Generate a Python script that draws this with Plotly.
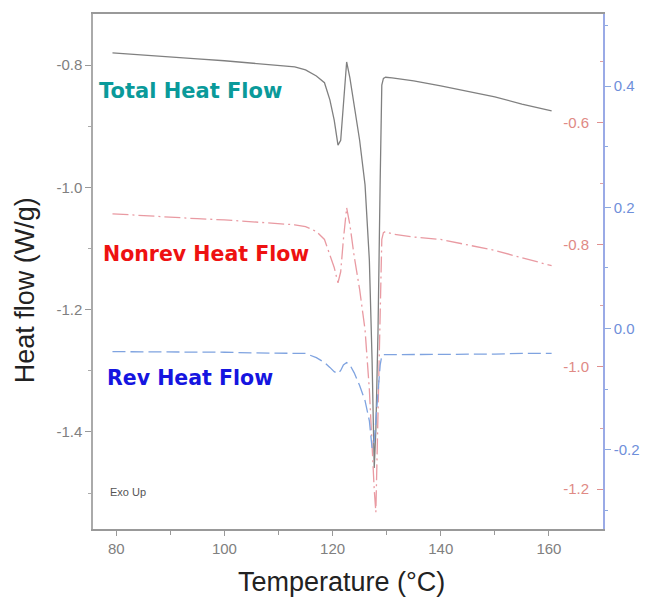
import plotly.graph_objects as go

# Temperature (°C)
temperature = [79.3, 85, 90, 95, 100, 105, 110, 113, 115, 117, 118.5, 119.5, 120.3,
               121.0, 121.5, 122.0, 122.6, 123.2, 124.0, 125.0, 126.0, 126.8, 127.3,
               127.7, 128.0, 128.4, 128.8, 129.1, 129.4, 129.8, 131, 135, 140, 145,
               150, 155, 160.5]

# Total Heat Flow (W/g) - left axis
total_hf = [-0.780, -0.784, -0.787, -0.790, -0.793, -0.797, -0.800, -0.803, -0.808,
            -0.818, -0.829, -0.857, -0.890, -0.931, -0.923, -0.865, -0.795, -0.821,
            -0.870, -0.923, -0.996, -1.119, -1.282, -1.459, -1.397, -1.234, -0.989,
            -0.833, -0.822, -0.820, -0.821, -0.826, -0.834, -0.843, -0.852, -0.864,
            -0.875]

# Nonrev Heat Flow (W/g) - middle axis
nonrev_hf = [-0.749, -0.752, -0.755, -0.757, -0.759, -0.762, -0.765, -0.767, -0.770,
             -0.778, -0.791, -0.816, -0.837, -0.862, -0.844, -0.791, -0.739, -0.767,
             -0.819, -0.873, -0.939, -1.037, -1.135, -1.201, -1.238, -1.087, -0.890,
             -0.791, -0.780, -0.778, -0.782, -0.787, -0.791, -0.800, -0.809, -0.821,
             -0.834]

# Rev Heat Flow (W/g) - right axis
rev_hf = [-0.038, -0.038, -0.039, -0.039, -0.039, -0.040, -0.040, -0.040, -0.041,
          -0.048, -0.056, -0.064, -0.071, -0.074, -0.069, -0.060, -0.056, -0.060,
          -0.073, -0.094, -0.119, -0.152, -0.197, -0.185, -0.152, -0.103, -0.060,
          -0.045, -0.043, -0.043, -0.043, -0.043, -0.043, -0.042, -0.042, -0.041,
          -0.041]

left_ticks = [-0.8, -1.0, -1.2, -1.4]
mid_ticks = [-0.6, -0.8, -1.0, -1.2]
right_ticks = [0.4, 0.2, 0.0, -0.2]
x_ticks = [80, 100, 120, 140, 160]

FONT = "Liberation Sans, Arial, sans-serif"

fig = go.Figure()
fig.add_trace(go.Scatter(x=temperature, y=rev_hf, yaxis="y3", mode="lines",
                         line=dict(color="#7FA3E0", width=1.3, dash="13px,5px"),
                         name="Rev Heat Flow"))
fig.add_trace(go.Scatter(x=temperature, y=nonrev_hf, yaxis="y2", mode="lines",
                         line=dict(color="#E99AA2", width=1.3, dash="16px,4px,2px,4px"),
                         name="Nonrev Heat Flow"))
fig.add_trace(go.Scatter(x=temperature, y=total_hf, yaxis="y", mode="lines",
                         line=dict(color="#808080", width=1.3),
                         name="Total Heat Flow"))

fig.update_layout(
    width=645, height=597,
    margin=dict(l=93, r=42, t=14, b=68),
    paper_bgcolor="white", plot_bgcolor="white",
    showlegend=False,
    font=dict(family=FONT),
    xaxis=dict(range=[75.7, 170], tickvals=x_ticks, ticks="outside", ticklen=5,
               tickcolor="#999999", showline=True, linecolor="#999999", linewidth=1.5,
               mirror=True, showgrid=False, zeroline=False, automargin=False,
               tickfont=dict(size=15, color="#808080"),
               minor=dict(dtick=10, tick0=80, ticks="outside", ticklen=4, tickcolor="#999999")),
    yaxis=dict(range=[-1.5586, -0.7166], tickvals=left_ticks, ticktext=["-0.8", "-1.0", "-1.2", "-1.4"],
               ticks="outside", ticklen=6, tickcolor="#999999", showline=True,
               linecolor="#AAAAAA", linewidth=1.5, showgrid=False, zeroline=False, automargin=False,
               tickfont=dict(size=15, color="#808080"),
               minor=dict(dtick=0.1, tick0=-0.9, ticks="outside", ticklen=3, tickcolor="#AAAAAA")),
    yaxis2=dict(range=[-1.2655, -0.4216], tickvals=mid_ticks, ticktext=["-0.6", "-0.8", "-1.0", "-1.2"],
                overlaying="y", side="right", anchor="x", automargin=False,
                ticks="inside", ticklen=6, tickcolor="#E0908F", ticklabelposition="inside",
                ticklabelstandoff=8,
                showline=False, showgrid=False, zeroline=False,
                tickfont=dict(size=15, color="#E08A85"),
                minor=dict(dtick=0.1, tick0=-0.5, ticks="inside", ticklen=3, tickcolor="#E0A0A0")),
    yaxis3=dict(range=[-0.3306, 0.519], tickvals=right_ticks, ticktext=["0.4", "0.2", "0.0", "-0.2"],
                overlaying="y", side="right", anchor="x", automargin=False,
                ticks="outside", ticklen=6, tickcolor="#8AA8E0",
                showline=True, linecolor="#9AAAE6", linewidth=1.5,
                showgrid=False, zeroline=False,
                tickfont=dict(size=15, color="#6F8FDA"),
                minor=dict(dtick=0.1, tick0=0.5, ticks="outside", ticklen=3, tickcolor="#8AA8E0")),
)

ann = [
    dict(text="Total Heat Flow", x=0.192, y=0.850, color="#0A9A9A", size=21),
    dict(text="Nonrev Heat Flow", x=0.2216, y=0.534, color="#EE1111", size=20.5),
    dict(text="Rev Heat Flow", x=0.190, y=0.293, color="#1515E0", size=20.5),
]
for a in ann:
    fig.add_annotation(text="<b>%s</b>" % a["text"], x=a["x"], y=a["y"], xref="paper", yref="paper",
                       showarrow=False, xanchor="center", yanchor="middle",
                       font=dict(family="DejaVu Sans, Verdana, sans-serif", size=a["size"], color=a["color"]))

fig.add_annotation(text="Exo Up", x=0.0294, y=0.0718, xref="paper", yref="paper", showarrow=False,
                   xanchor="left", yanchor="middle", font=dict(family=FONT, size=11, color="#555555"))
fig.add_annotation(text="Temperature (°C)", x=0.488, y=-0.103, xref="paper", yref="paper",
                   showarrow=False, xanchor="center", yanchor="middle",
                   font=dict(family=FONT, size=27, color="#222222"))
fig.add_annotation(text="Heat flow (W/g)", x=-0.133, y=0.464, xref="paper", yref="paper",
                   showarrow=False, xanchor="center", yanchor="middle", textangle=-90,
                   font=dict(family=FONT, size=27, color="#222222"))

fig.write_html("out.html", config={"displayModeBar": False},
               post_script="document.body.style.margin='0';")
